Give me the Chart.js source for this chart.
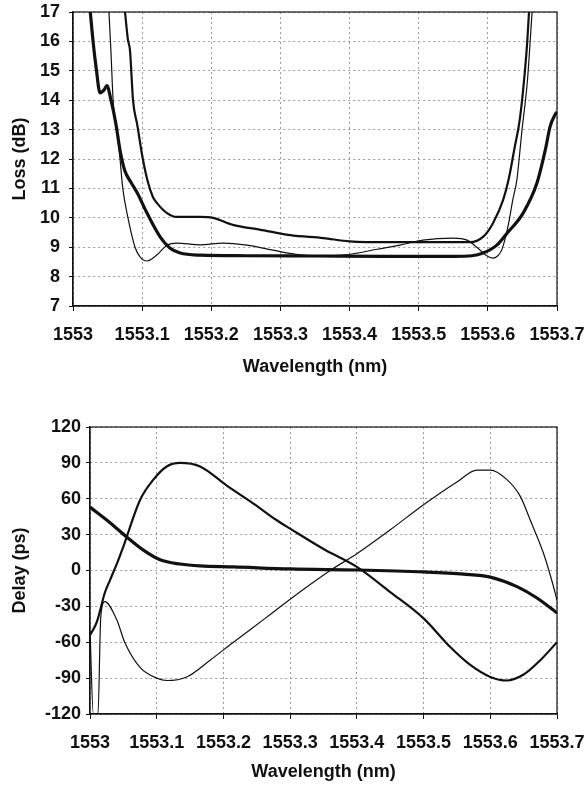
<!DOCTYPE html>
<html>
<head>
<meta charset="utf-8">
<script src="https://cdn.jsdelivr.net/npm/chart.js@4"></script>
<style>
  body { margin: 0; background: #fff; }
  #wrap { position: relative; width: 587px; height: 789px; }
  canvas { position: absolute; left: 0; }
</style>
</head>
<body>
<div id="wrap">
  <canvas id="lossChart" width="587" height="394" style="top:0"></canvas>
  <canvas id="delayChart" width="587" height="395" style="top:394px"></canvas>
</div>
<script>
// tick values
const wavelengthTicks = [1553, 1553.1, 1553.2, 1553.3, 1553.4, 1553.5, 1553.6, 1553.7];
const lossTicks = [7, 8, 9, 10, 11, 12, 13, 14, 15, 16, 17];
const delayTicks = [-120, -90, -60, -30, 0, 30, 60, 90, 120];

// Loss curves
const lossThickX = [1553.025, 1553.029, 1553.034, 1553.039, 1553.045, 1553.049, 1553.055, 1553.062, 1553.068, 1553.075, 1553.084, 1553.093, 1553.107, 1553.126, 1553.14, 1553.155, 1553.184, 1553.25, 1553.35, 1553.45, 1553.55, 1553.577, 1553.593, 1553.613, 1553.628, 1553.651, 1553.671, 1553.683, 1553.69, 1553.697, 1553.7];
const lossThickY = [17, 16, 15, 14.25, 14.35, 14.5, 14.0, 13.2, 12.3, 11.6, 11.2, 10.84, 10.16, 9.35, 8.97, 8.8, 8.73, 8.71, 8.7, 8.69, 8.69, 8.71, 8.8, 9.07, 9.48, 10.16, 11.18, 12.3, 13.1, 13.5, 13.6];

const lossThinX = [1553.052, 1553.055, 1553.058, 1553.0635, 1553.068, 1553.072, 1553.0795, 1553.0897, 1553.097, 1553.107, 1553.1215, 1553.136, 1553.15, 1553.184, 1553.217, 1553.252, 1553.289, 1553.328, 1553.36, 1553.39, 1553.411, 1553.44, 1553.473, 1553.506, 1553.55, 1553.57, 1553.584, 1553.599, 1553.607, 1553.614, 1553.62, 1553.629, 1553.636, 1553.642, 1553.6465, 1553.649, 1553.657, 1553.664];
const lossThinY = [17, 15.6, 14.0, 13.0, 12.0, 11.0, 10.0, 9.0, 8.67, 8.53, 8.74, 9.07, 9.14, 9.08, 9.14, 9.07, 8.9, 8.74, 8.71, 8.73, 8.8, 8.93, 9.07, 9.24, 9.31, 9.24, 9.0, 8.7, 8.63, 8.7, 8.9, 9.69, 10.6, 11.3, 12.3, 12.9, 14.6, 17];

const lossMidX = [1553.0752, 1553.0795, 1553.0824, 1553.0868, 1553.093, 1553.101, 1553.1085, 1553.1157, 1553.1215, 1553.136, 1553.15, 1553.184, 1553.2025, 1553.231, 1553.27, 1553.314, 1553.362, 1553.4, 1553.458, 1553.574, 1553.593, 1553.607, 1553.622, 1553.63, 1553.638, 1553.6465, 1553.654, 1553.657, 1553.6595];
const lossMidY = [17, 16.05, 15.7, 14.0, 13.15, 12.0, 11.2, 10.7, 10.5, 10.16, 10.03, 10.03, 10.0, 9.76, 9.6, 9.41, 9.31, 9.2, 9.17, 9.17, 9.35, 9.8, 10.6, 11.3, 12.3, 13.4, 15.1, 16.0, 17];

// Delay curves
const delayThickX = [1553, 1553.03, 1553.055, 1553.08, 1553.105, 1553.135, 1553.165, 1553.215, 1553.3, 1553.4, 1553.5, 1553.56, 1553.6, 1553.64, 1553.67, 1553.7];
const delayThickY = [53, 40, 28, 17, 9, 5.4, 3.8, 3, 1.3, 0.4, -1.2, -3, -5.5, -13.5, -23, -35.5];

const delayMidX = [1553, 1553.008, 1553.012, 1553.022, 1553.03, 1553.042, 1553.05, 1553.075, 1553.095, 1553.115, 1553.135, 1553.165, 1553.205, 1553.245, 1553.28, 1553.3, 1553.35, 1553.4, 1553.45, 1553.5, 1553.54, 1553.57, 1553.6, 1553.625, 1553.65, 1553.675, 1553.7];
const delayMidY = [-54, -46, -40, -19, -8, 8, 20, 59, 76, 87, 90, 87, 71, 56, 42, 35, 18, 3, -18, -40, -64, -79, -89, -92, -87, -75, -60];

const delayThinX = [1553, 1553.005, 1553.012, 1553.016, 1553.022, 1553.04, 1553.052, 1553.075, 1553.1, 1553.115, 1553.145, 1553.18, 1553.215, 1553.265, 1553.3, 1553.36, 1553.4, 1553.45, 1553.5, 1553.55, 1553.58, 1553.6, 1553.625, 1553.645, 1553.66, 1553.68, 1553.695, 1553.7];
const delayThinY = [-50, -120, -120, -40, -26, -41, -60, -81, -90, -92, -89, -75, -60, -39, -24, 0, 14, 34, 55, 74, 84, 84, 76, 62, 42, 14, -14, -25];

const pts = (xs, ys) => xs.map((x, i) => ({ x: x, y: ys[i] }));

const boldFont = { family: '"Liberation Sans", Arial, sans-serif', size: 18, weight: 'bold' };

// box around the plot area
const frame = {
    id: 'frame',
    afterDraw(chart) {
        const a = chart.chartArea, ctx = chart.ctx;
        ctx.save();
        ctx.strokeStyle = '#111';
        ctx.lineWidth = 1.2;
        ctx.strokeRect(a.left, a.top, a.right - a.left, a.bottom - a.top);
        ctx.restore();
    }
};

function line(data, width) {
    return {
        data: data,
        borderColor: '#111',
        borderWidth: width,
        pointRadius: 0,
        fill: false,
        cubicInterpolationMode: 'monotone'
    };
}

// keep the label overhang from moving the plot area
function noPad(s) {
    s.paddingLeft = 0; s.paddingRight = 0; s.paddingTop = 0; s.paddingBottom = 0;
}

function axes(yTicks, yTitle, yMin, yMax, yWidth, yPad, xHeight, xTitlePad) {
    const grid = { color: '#9a9a9a', lineWidth: 1, tickColor: '#111', tickBorderDash: [] };
    return {
        x: {
            type: 'linear',
            min: 1553, max: 1553.7,
            afterBuildTicks: s => { s.ticks = wavelengthTicks.map(v => ({ value: v })); },
            afterFit: s => { s.height = xHeight; noPad(s); },
            grid: Object.assign({}, grid, { tickLength: 5 }),
            border: { color: '#111', width: 1.2, dash: [2, 3] },
            ticks: {
                color: '#111', font: boldFont, padding: 13, maxRotation: 0, autoSkip: false,
                callback: v => String(Math.round(v * 10) / 10)
            },
            title: { display: true, text: 'Wavelength (nm)', color: '#111', font: boldFont, padding: { top: 0, bottom: xTitlePad } }
        },
        y: {
            type: 'linear',
            min: yMin, max: yMax,
            afterBuildTicks: s => { s.ticks = yTicks.map(v => ({ value: v })); },
            afterFit: s => { s.width = yWidth; noPad(s); },
            grid: Object.assign({}, grid, { tickLength: 4 }),
            border: { color: '#111', width: 1.2, dash: [2, 3] },
            ticks: { color: '#111', font: boldFont, padding: yPad, callback: v => String(v) },
            title: { display: true, text: yTitle, color: '#111', font: boldFont, padding: { top: 9, bottom: 0 } }
        }
    };
}

new Chart(document.getElementById('lossChart'), {
    type: 'line',
    data: {
        datasets: [
            line(pts(lossThinX, lossThinY), 1.2),
            line(pts(lossMidX, lossMidY), 2.2),
            line(pts(lossThickX, lossThickY), 3.2)
        ]
    },
    options: {
        responsive: false,
        animation: false,
        layout: { padding: { top: 12, right: 30, left: 0, bottom: 0 } },
        plugins: { legend: { display: false }, tooltip: { enabled: false } },
        scales: axes(lossTicks, 'Loss (dB)', 7, 17, 73, 9, 88, 16)
    },
    plugins: [frame]
});

new Chart(document.getElementById('delayChart'), {
    type: 'line',
    data: {
        datasets: [
            line(pts(delayThinX, delayThinY), 1.2),
            line(pts(delayMidX, delayMidY), 2.2),
            line(pts(delayThickX, delayThickY), 3.2)
        ]
    },
    options: {
        responsive: false,
        animation: false,
        layout: { padding: { top: 33, right: 30, left: 0, bottom: 0 } },
        plugins: { legend: { display: false }, tooltip: { enabled: false } },
        scales: axes(delayTicks, 'Delay (ps)', -120, 120, 90, 5, 75, 6)
    },
    plugins: [frame]
});
</script>
</body>
</html>
